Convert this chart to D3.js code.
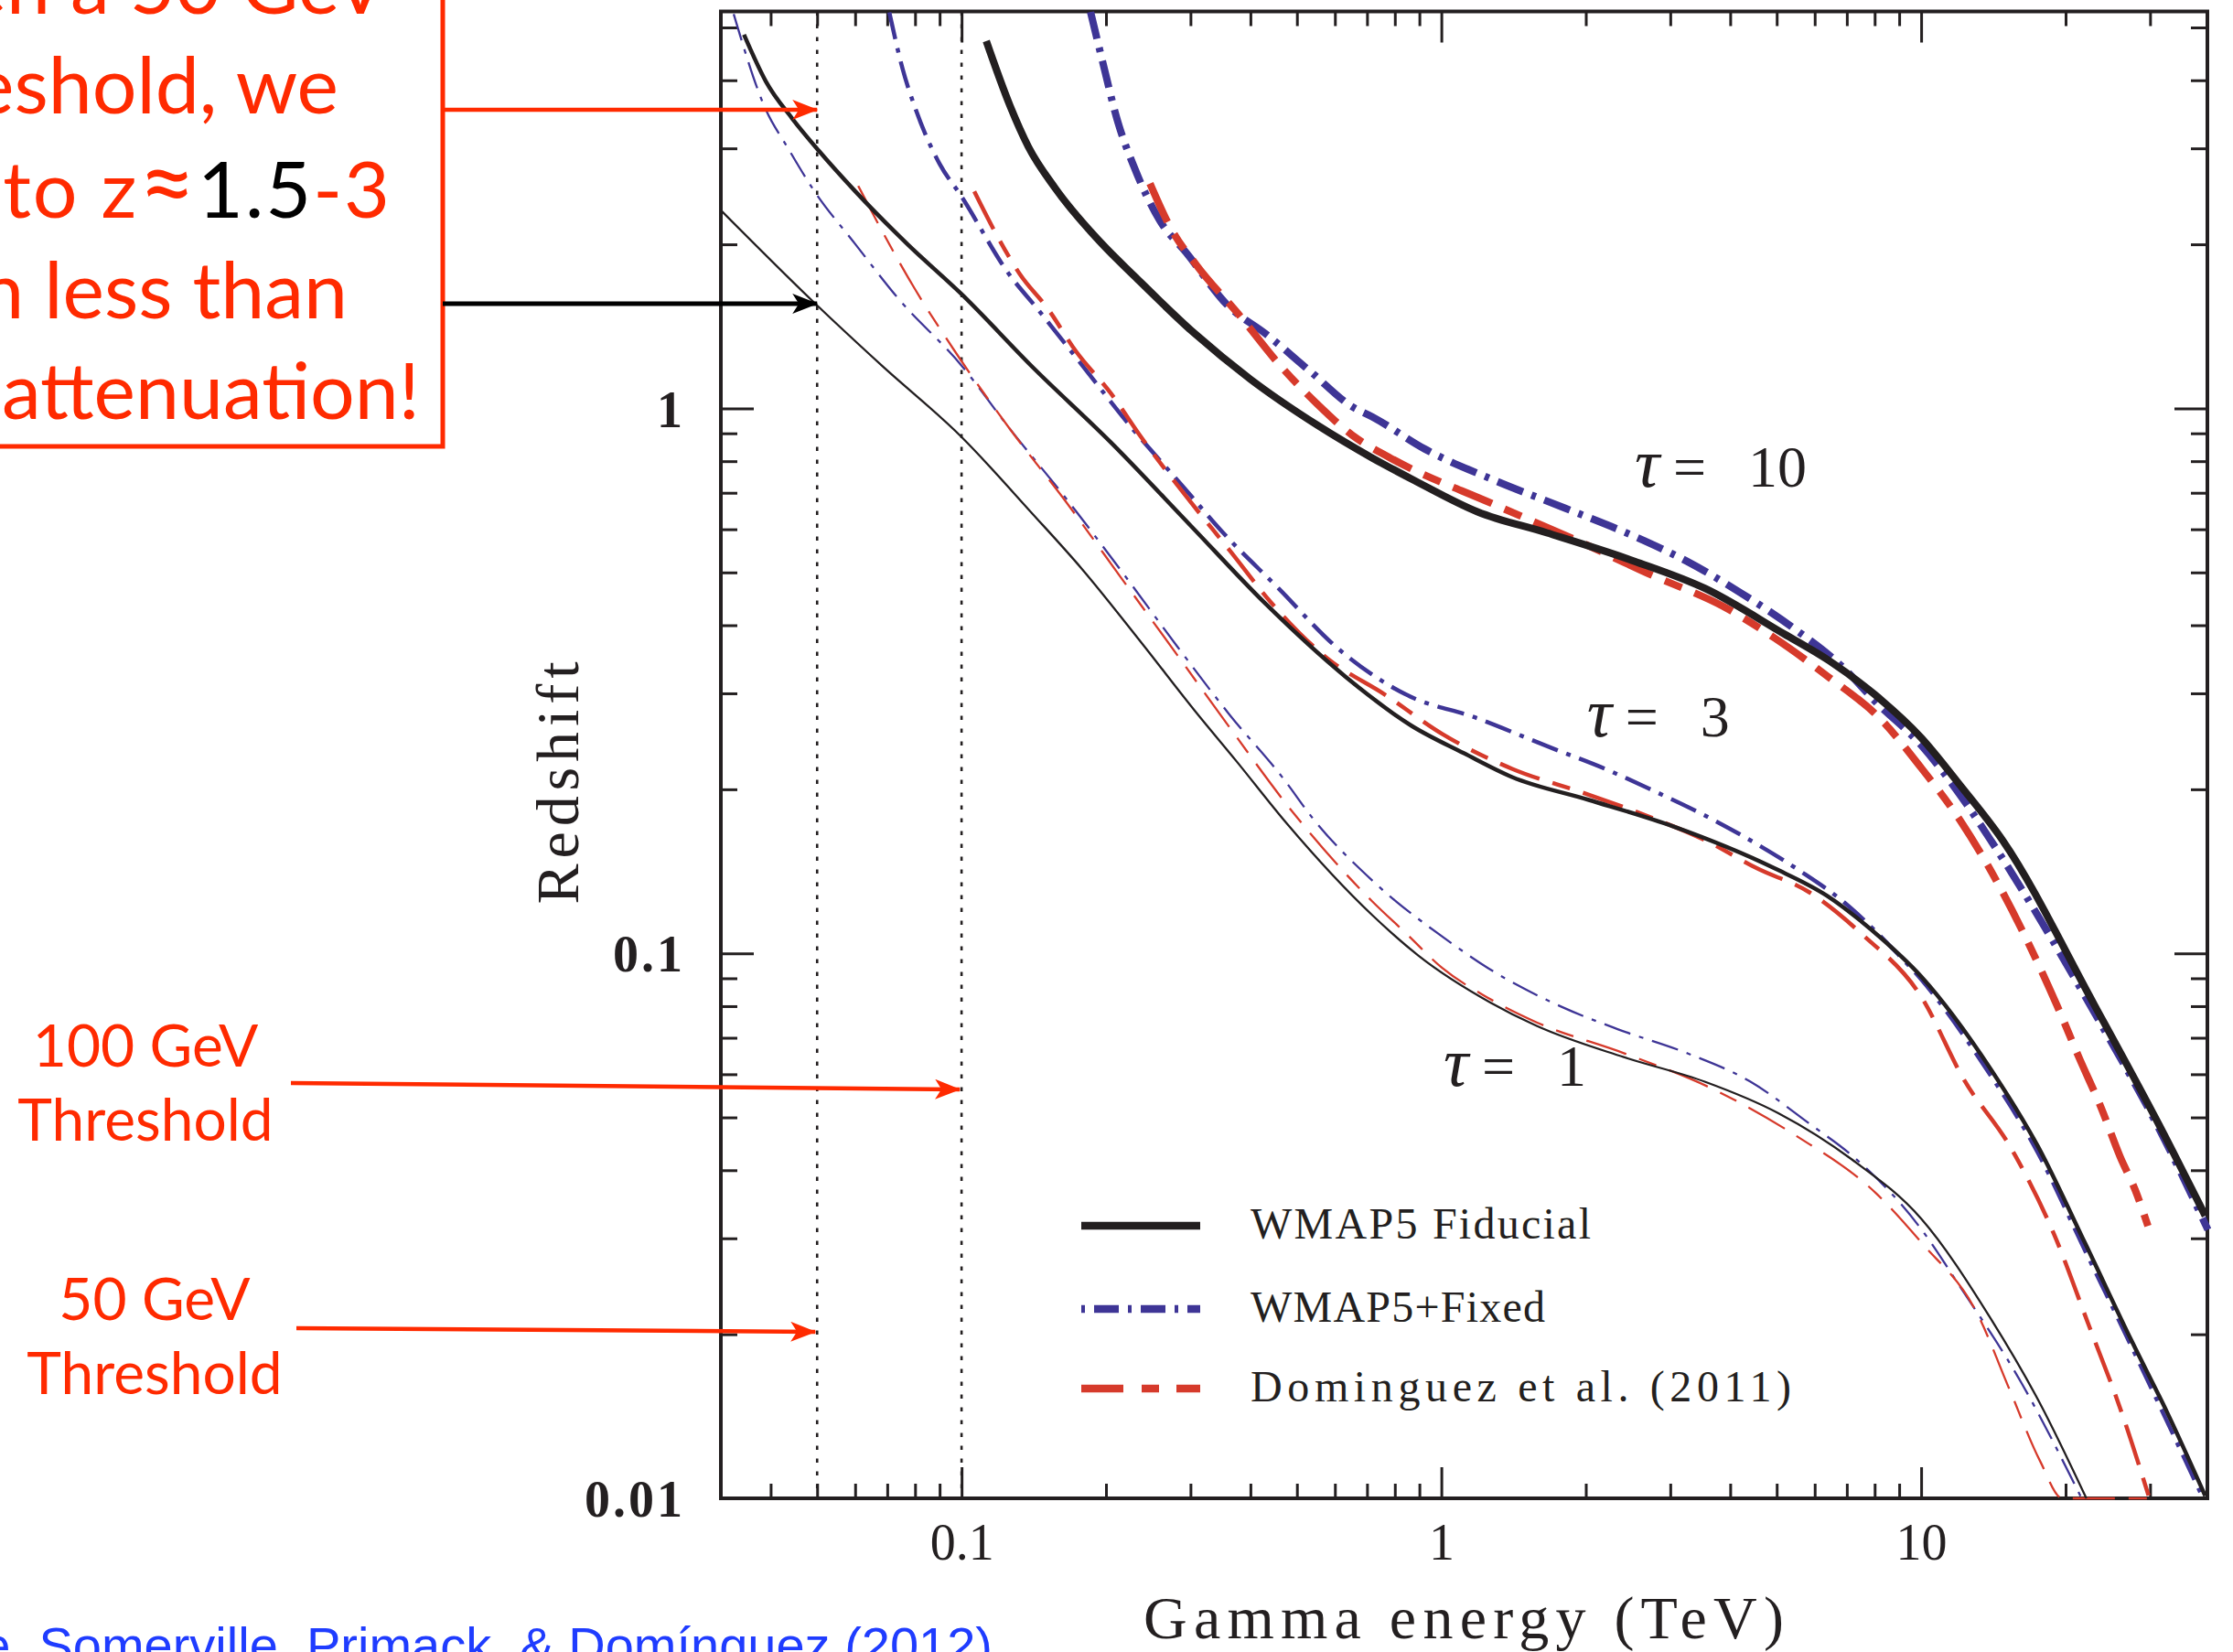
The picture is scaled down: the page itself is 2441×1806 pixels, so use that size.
<!DOCTYPE html>
<html>
<head>
<meta charset="utf-8">
<script src="https://cdnjs.cloudflare.com/ajax/libs/d3/7.8.5/d3.min.js"></script>
<style>
  body { margin: 0; background: #fff; }
</style>
</head>
<body>
<svg id="mainSvg" width="2441" height="1806"></svg>
<script>
// axis ranges and ticks
const xDomain = [0.0315, 39.5];   // TeV
const yDomain = [0.01, 5.35];     // redshift
const xMajor = [0.1, 1, 10];
const xMinor = [0.04, 0.05, 0.06, 0.07, 0.08, 0.09, 0.2, 0.3, 0.4, 0.5, 0.6, 0.7, 0.8, 0.9,
                2, 3, 4, 5, 6, 7, 8, 9, 20, 30];
const yMajor = [0.01, 0.1, 1];
const yMinor = [0.02, 0.03, 0.04, 0.05, 0.06, 0.07, 0.08, 0.09,
                0.2, 0.3, 0.4, 0.5, 0.6, 0.7, 0.8, 0.9, 2, 3, 4, 5];
const thresholds = [0.05, 0.1];   // TeV, dotted lines
const models = ["WMAP5 Fiducial", "WMAP5+Fixed", "Dominguez et al. (2011)"];
const tauValues = [1, 3, 10];

// [energy TeV, redshift]
const fiducialTau1 = [[0.0315,2.31],[0.0498,1.55],[0.0682,1.198],[0.100,0.886],[0.140,0.643],[0.178,0.508],
  [0.238,0.370],[0.306,0.279],[0.375,0.2246],[0.475,0.1736],[0.718,0.1175],[0.894,0.0992],[1.27,0.0811],
  [1.58,0.0736],[2.40,0.0645],[3.55,0.0581],[5.04,0.0509],[7.16,0.0419],[10,0.0326],[13.95,0.0214],
  [17.75,0.01485],[22.1,0.0100]];
const fixedTau1 = [[0.0335,5.29],[0.0391,3.53],[0.0433,3.02],[0.0491,2.52],[0.0601,2.00],[0.0736,1.595],
  [0.100,1.198],[0.1256,0.921],[0.165,0.684],[0.2157,0.502],[0.282,0.365],[0.362,0.274],[0.467,0.210],
  [0.542,0.176],[0.718,0.136],[1.04,0.105],[1.25,0.094],[1.78,0.0798],[2.33,0.0726],[3.25,0.0656],
  [4.40,0.0582],[5.85,0.0487],[7.28,0.0421],[10,0.0312],[12.0,0.0246],[16.2,0.01626],[21.6,0.0100]];
const dominguezTau1 = [[0.0609,2.56],[0.0665,2.21],[0.0799,1.657],[0.0962,1.284],[0.1256,0.921],[0.165,0.674],
  [0.2157,0.487],[0.282,0.352],[0.368,0.2546],[0.486,0.1833],[0.718,0.1245],[0.848,0.1084],[1.004,0.094],
  [1.247,0.083],[1.58,0.0747],[2.40,0.0656],[3.66,0.0565],[5.48,0.0463],[8.05,0.0363],[10,0.0295],
  [13.1,0.0218],[15.3,0.0158],[17.7,0.0117],[19.7,0.0100],[29.8,0.0100]];

const fiducialTau3 = [[0.0352,4.85],[0.0391,3.98],[0.0444,3.40],[0.0504,2.97],[0.0601,2.50],[0.0772,2.00],
  [0.0996,1.626],[0.1415,1.184],[0.2045,0.867],[0.301,0.608],[0.429,0.439],[0.631,0.322],[0.867,0.2615],
  [1.113,0.233],[1.404,0.2106],[2.03,0.1912],[3.04,0.171],[4.95,0.1432],[6.38,0.1274],[7.92,0.110],
  [10,0.0907],[13.95,0.0614],[17.5,0.0443],[22.0,0.0293],[27.5,0.0194],[32.5,0.01443],[39.1,0.0101]];
const fixedTau3 = [[0.0707,5.33],[0.0754,4.19],[0.0803,3.53],[0.090,2.81],[0.0996,2.46],[0.1256,1.763],
  [0.144,1.522],[0.176,1.218],[0.2263,0.921],[0.287,0.725],[0.351,0.591],[0.4586,0.4667],[0.5993,0.367],
  [0.8405,0.299],[1.188,0.270],[1.66,0.240],[2.25,0.216],[2.75,0.1993],[3.55,0.1789],[4.55,0.1586],
  [5.57,0.142],[6.94,0.1237],[8.49,0.1045],[10,0.0896],[13.5,0.0624],[17.5,0.0431],[22.0,0.0284],
  [28.0,0.0183],[38.5,0.0101]];
const dominguezTau3 = [[0.1063,2.50],[0.1187,2.07],[0.1323,1.763],[0.1514,1.522],[0.173,1.274],[0.2045,1.067],
  [0.238,0.880],[0.296,0.684],[0.362,0.549],[0.443,0.439],[0.581,0.3467],[0.760,0.299],[1.006,0.2525],
  [1.404,0.2181],[1.97,0.1972],[2.67,0.179],[3.55,0.1612],[4.55,0.1432],[5.85,0.1294],[7.54,0.1083],
  [10,0.0833],[12.3,0.0585],[15.3,0.0443],[18.9,0.0306],[22.3,0.0209],[26.3,0.0142],[29.8,0.0101]];

const fiducialTau10 = [[0.1126,4.72],[0.1262,3.59],[0.1378,3.02],[0.1565,2.54],[0.1966,2.00],[0.229,1.75],
  [0.306,1.372],[0.400,1.131],[0.551,0.932],[0.718,0.811],[0.882,0.736],[1.189,0.646],[1.66,0.591],
  [2.53,0.524],[3.55,0.467],[5.17,0.386],[6.44,0.344],[8.02,0.298],[10,0.2487],[12.08,0.203],
  [14.8,0.161],[23.0,0.0802],[31.3,0.0485],[39.1,0.033]];
const fixedTau10 = [[0.1857,5.34],[0.1966,4.34],[0.2118,3.35],[0.229,2.77],[0.259,2.21],[0.294,1.93],
  [0.360,1.54],[0.4296,1.372],[0.535,1.166],[0.652,1.007],[0.718,0.965],[0.922,0.843],[1.29,0.738],
  [1.81,0.656],[2.53,0.582],[3.25,0.524],[4.19,0.4597],[5.38,0.397],[6.94,0.332],[8.02,0.290],
  [10,0.241],[12.45,0.1875],[14.0,0.1607],[23.0,0.0777],[32.1,0.0457],[39.6,0.0311]];
const dominguezTau10 = [[0.247,2.585],[0.273,2.14],[0.309,1.83],[0.378,1.488],[0.467,1.184],[0.551,1.019],
  [0.652,0.893],[0.777,0.814],[1.29,0.666],[1.97,0.566],[2.75,0.494],[3.855,0.4338],[4.95,0.379],
  [6.38,0.3224],[8.20,0.270],[10,0.219],[12.08,0.175],[19.2,0.0802],[21.35,0.0643],[23.7,0.0522],
  [25.97,0.0424],[28.0,0.0366],[29.7,0.0316]];

// ---------------------------------------------------------------
let svg = d3.select('#mainSvg');
const ink = "#231f20", blue = "#3e3596", red = "#d63a2b", note = "#ff2a00";
const serif = "'Liberation Serif', 'Times New Roman', serif";
const sans = "Lato, 'Open Sans', sans-serif";
const pLeft = 788, pRight = 2413, pTop = 12.5, pBottom = 1638;

svg.append("rect").attr("width", 2441).attr("height", 1806).attr("fill", "#fff");

const x = d3.scaleLog().domain(xDomain).range([pLeft, pRight]);
const y = d3.scaleLog().domain(yDomain).range([pBottom, pTop]);

const defs = svg.append("defs");
defs.append("clipPath").attr("id", "plotClip")
  .append("rect").attr("x", pLeft).attr("y", pTop)
  .attr("width", pRight - pLeft + 4).attr("height", pBottom - pTop + 3);

// dotted threshold lines
svg.selectAll("line.thr").data(thresholds).join("line")
  .attr("class", "thr")
  .attr("x1", d => x(d)).attr("x2", d => x(d))
  .attr("y1", pTop).attr("y2", pBottom)
  .attr("stroke", ink).attr("stroke-width", 2.6)
  .attr("stroke-dasharray", "4.5,9.5");

// axes: ticks inward on all four sides
const addAxis = function (gen, translate, values, len, labels) {
  const g = svg.append("g").attr("transform", translate)
    .call(gen.tickValues(values).tickSizeInner(-len).tickSizeOuter(0).tickPadding(0)
      .tickFormat(labels ? d3.format("~g") : ""));
  g.select(".domain").remove();
  g.selectAll(".tick line").attr("stroke", ink).attr("stroke-width", 3);
  g.attr("font-family", serif).attr("font-size", 56);
  return g;
};
addAxis(d3.axisBottom(x), `translate(0,${pBottom})`, xMinor, 16, false);
addAxis(d3.axisTop(x), `translate(0,${pTop})`, xMinor, 16, false);
addAxis(d3.axisTop(x), `translate(0,${pTop})`, xMajor, 34, false);
addAxis(d3.axisLeft(y), `translate(${pLeft},0)`, yMinor, 18, false);
addAxis(d3.axisRight(y), `translate(${pRight},0)`, yMinor, 18, false);
addAxis(d3.axisRight(y), `translate(${pRight},0)`, yMajor, 36, false);

const xAx = addAxis(d3.axisBottom(x), `translate(0,${pBottom})`, xMajor, 34, true);
xAx.selectAll("text").attr("y", 67).attr("dy", null).attr("fill", ink);
const yAx = addAxis(d3.axisLeft(y), `translate(${pLeft},0)`, yMajor, 36, true);
yAx.selectAll("text").attr("x", -39).attr("dy", "0.35em").attr("fill", ink)
  .attr("font-weight", "bold").attr("letter-spacing", 3);

svg.append("rect")
  .attr("x", pLeft).attr("y", pTop).attr("width", pRight - pLeft).attr("height", pBottom - pTop)
  .attr("fill", "none").attr("stroke", ink).attr("stroke-width", 4);

// curves (drawn over the frame, as in the figure)
const styles = {
  fid: {color: ink, dash: null},
  fix: {color: blue, dash: "30,10,5,10"},
  dom: {color: red, dash: "46,15,20,15"}
};
const widths = {1: 2.3, 3: 4.5, 10: 8};
const series = [
  {d: fixedTau1, m: "fix", t: 1}, {d: dominguezTau1, m: "dom", t: 1}, {d: fiducialTau1, m: "fid", t: 1},
  {d: fixedTau3, m: "fix", t: 3}, {d: dominguezTau3, m: "dom", t: 3}, {d: fiducialTau3, m: "fid", t: 3},
  {d: fixedTau10, m: "fix", t: 10}, {d: dominguezTau10, m: "dom", t: 10}, {d: fiducialTau10, m: "fid", t: 10}
];
const line = d3.line().x(d => x(d[0])).y(d => y(d[1])).curve(d3.curveMonotoneX);

svg.append("g").attr("clip-path", "url(#plotClip)")
  .selectAll("path").data(series).join("path")
  .attr("d", s => line(s.d))
  .attr("fill", "none")
  .attr("stroke", s => styles[s.m].color)
  .attr("stroke-width", s => widths[s.t])
  .attr("stroke-dasharray", s => styles[s.m].dash);

// axis titles
svg.append("text").text("Gamma energy (TeV)")
  .attr("x", 1600).attr("y", 1791).attr("text-anchor", "middle")
  .attr("font-family", serif).attr("font-size", 66).attr("fill", ink)
  .attr("textLength", 700).attr("lengthAdjust", "spacing");
svg.append("text").text("Redshift")
  .attr("transform", "translate(632,856) rotate(-90)").attr("text-anchor", "middle")
  .attr("font-family", serif).attr("font-size", 66).attr("fill", ink)
  .attr("textLength", 265).attr("lengthAdjust", "spacing");

// tau labels
const tauAt = {1: [1.01, 0.0572], 3: [2.01, 0.250], 10: [2.53, 0.719]};
tauValues.forEach(t => {
  const px = x(tauAt[t][0]), py = y(tauAt[t][1]);
  const tx = svg.append("text").attr("x", px).attr("y", py)
    .attr("font-family", serif).attr("font-size", 64).attr("fill", ink);
  tx.append("tspan").attr("font-style", "italic").attr("font-size", 76).text("τ");
  tx.append("tspan").attr("x", px + 42).text("=");
  tx.append("tspan").attr("x", px + 124).text(t);
});

// legend
const legendKeys = ["fid", "fix", "dom"];
const legendDash = {fid: null, fix: "4,10,27,10", dom: "46,20,19,19"};
const legendY = [1340, 1431, 1518];
const legendLen = [372, 322, 591];
models.forEach((m, i) => {
  svg.append("line")
    .attr("x1", 1182).attr("x2", 1312).attr("y1", legendY[i]).attr("y2", legendY[i])
    .attr("stroke", styles[legendKeys[i]].color).attr("stroke-width", 8.5)
    .attr("stroke-dasharray", legendDash[legendKeys[i]]);
  svg.append("text").text(m)
    .attr("x", 1367).attr("y", legendY[i] + 14)
    .attr("font-family", serif).attr("font-size", 48).attr("fill", ink)
    .attr("textLength", legendLen[i]).attr("lengthAdjust", "spacing");
});

// ---------------- slide annotations ----------------
[["arrRed", note], ["arrBlack", "#000"]].forEach(([id, c]) => {
  defs.append("marker").attr("id", id)
    .attr("markerUnits", "userSpaceOnUse")
    .attr("markerWidth", 30).attr("markerHeight", 24)
    .attr("refX", 27).attr("refY", 11).attr("orient", "auto")
    .append("path").attr("d", "M0,0 L28,11 L0,22 L7,11 Z").attr("fill", c);
});

svg.append("rect")
  .attr("x", -20).attr("y", -20).attr("width", 504).attr("height", 508)
  .attr("fill", "#fff").attr("stroke", note).attr("stroke-width", 5);

const boxLines = [
  {t: "Even given a 50 GeV", end: 423, base: 15},
  {t: "threshold, we", end: 370, base: 124},
  {t: null, end: 428, base: 238},
  {t: "with even less than", end: 380, base: 348},
  {t: "one e-fold attenuation!", end: 459, base: 458}
];
boxLines.forEach(l => {
  const tx = svg.append("text").attr("x", l.end).attr("y", l.base)
    .attr("text-anchor", "end").attr("font-family", sans).attr("font-size", 86).attr("fill", note);
  if (l.t) tx.text(l.t);
  else {
    tx.attr("letter-spacing", 2);
    tx.append("tspan").text("can see to z");
    tx.append("tspan").attr("font-size", 108).text("≈");
    tx.append("tspan").attr("fill", "#000").text("1.5");
    tx.append("tspan").text("-3");
  }
});

svg.append("line").attr("x1", 484).attr("y1", 120).attr("x2", x(0.05)).attr("y2", 120)
  .attr("stroke", note).attr("stroke-width", 4.5).attr("marker-end", "url(#arrRed)");
svg.append("line").attr("x1", 484).attr("y1", 332).attr("x2", x(0.05)).attr("y2", 332)
  .attr("stroke", "#000").attr("stroke-width", 5).attr("marker-end", "url(#arrBlack)");

const thrNotes = [
  {a: "100 GeV", b: "Threshold", cx: 159, base: 1166, from: [318, 1184], e: 0.1, ty: 1191},
  {a: "50 GeV", b: "Threshold", cx: 169, base: 1443, from: [324, 1452], e: 0.05, ty: 1456}
];
thrNotes.forEach(n => {
  [n.a, n.b].forEach((s, k) => {
    svg.append("text").text(s).attr("x", n.cx).attr("y", n.base + k * 81)
      .attr("text-anchor", "middle").attr("font-family", sans).attr("font-size", 64).attr("fill", note);
  });
  svg.append("line").attr("x1", n.from[0]).attr("y1", n.from[1]).attr("x2", x(n.e) - 2).attr("y2", n.ty)
    .attr("stroke", note).attr("stroke-width", 4.5).attr("marker-end", "url(#arrRed)");
});

svg.append("text").text("Gilmore, Somerville, Primack, & Domínguez (2012)")
  .attr("x", 1085).attr("y", 1818).attr("text-anchor", "end")
  .attr("font-family", "'Liberation Sans', Arial, sans-serif").attr("font-size", 56).attr("fill", "#1f3cff");
</script>
</body>
</html>
